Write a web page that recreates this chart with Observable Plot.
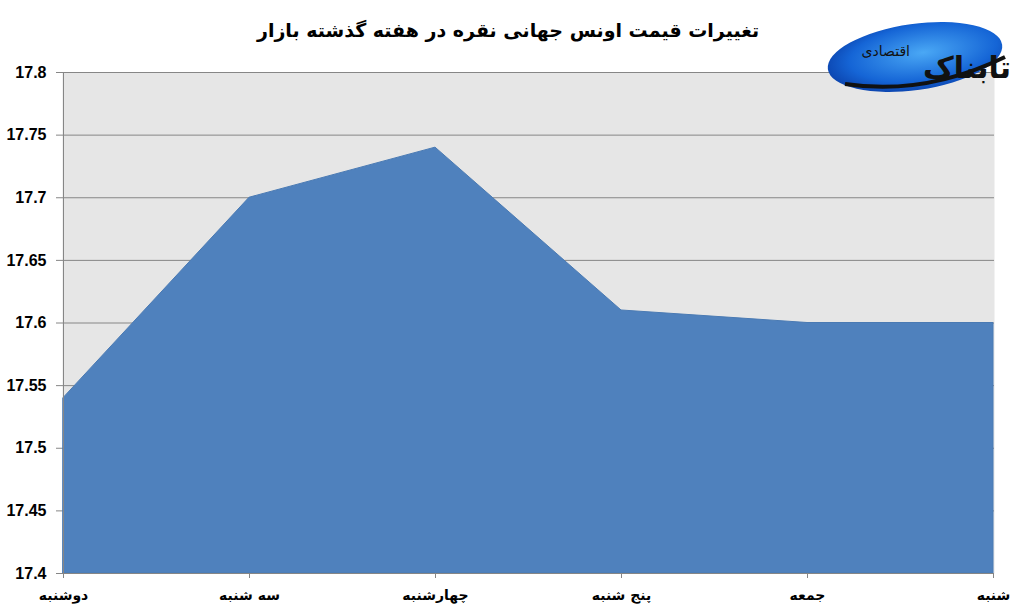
<!DOCTYPE html>
<html><head><meta charset="utf-8">
<script src="https://cdn.jsdelivr.net/npm/d3@7"></script>
<script src="https://cdn.jsdelivr.net/npm/@observablehq/plot@0.6"></script>
<style>
body{margin:0;background:#fff;width:1016px;height:611px;overflow:hidden;position:relative}
#title{position:absolute;left:0;width:1016px;top:19px;text-align:center;font:bold 19px "DejaVu Sans",sans-serif;direction:rtl;color:#000}
#chart{position:absolute;left:0;top:0}
#logo{position:absolute;left:815px;top:12px}
</style></head>
<body>
<div id="chart"></div>
<div id="title">تغییرات قیمت اونس جهانی نقره در هفته گذشته بازار</div>
<svg id="logo" width="200" height="90" viewBox="0 0 200 90">
<defs><radialGradient id="g" cx="0.55" cy="0.45" r="0.6"><stop offset="0" stop-color="#4aa8f5"/><stop offset="0.7" stop-color="#1565d6"/><stop offset="1" stop-color="#0a3fa8"/></radialGradient></defs>
<ellipse cx="100" cy="45" rx="88" ry="33" transform="rotate(-8 100 45)" fill="url(#g)"/>
<path d="M30 72 Q110 84 190 45" stroke="#111" stroke-width="4" fill="none"/>
<text x="196" y="66" text-anchor="end" font-family="DejaVu Sans" font-weight="bold" font-size="30" fill="#111">تابناک</text>
<text x="95" y="44" text-anchor="end" font-family="DejaVu Sans" font-size="14" fill="#111">اقتصادی</text>
</svg>
<script>
const days = ["دوشنبه","سه شنبه","چهارشنبه","پنج شنبه","جمعه","شنبه"];
const prices = [17.54, 17.70, 17.74, 17.61, 17.60, 17.60];
const yTicks = [17.4,17.45,17.5,17.55,17.6,17.65,17.7,17.75,17.8];
const data = days.map((d,i)=>({day:d, price:prices[i]}));
const plot = Plot.plot({
  width:1016, height:611,
  marginLeft:62, marginRight:22, marginTop:72, marginBottom:38,
  style:{fontFamily:"DejaVu Sans, sans-serif", fontWeight:"bold", fontSize:"14px", color:"#000", background:"transparent"},
  x:{type:"point", domain:days, padding:0, label:null},
  y:{domain:[17.4,17.8], label:null},
  marks:[
    Plot.frame({fill:"#e6e6e6", stroke:null}),
    Plot.gridY(yTicks,{stroke:"#868686", strokeOpacity:1, strokeWidth:1}),
    Plot.areaY(data,{x:"day", y1:17.4, y2:"price", fill:"#4f81bd", stroke:"#4a7ab3", strokeWidth:1}),
    Plot.ruleX([days[0]],{stroke:"#868686"}),
    Plot.ruleY([17.4],{stroke:"#868686"}),
    Plot.axisY(yTicks,{tickSize:6, tickPadding:10, stroke:"#868686", tickFormat:d=>String(+d.toFixed(2)), fontFamily:"Liberation Sans, Arial, sans-serif", fontSize:16}),
    Plot.axisX({tickSize:5, tickPadding:12, stroke:"#868686", fontSize:14, fontFamily:"DejaVu Sans"})
  ]
});
document.getElementById("chart").appendChild(plot);
</script>
</body></html>
